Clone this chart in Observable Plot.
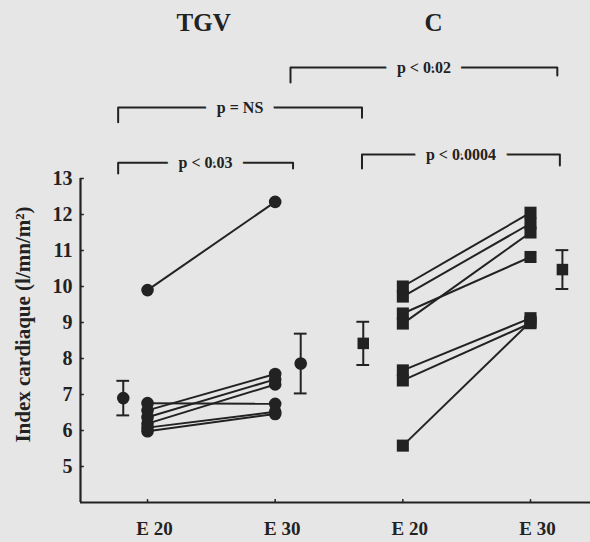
<!DOCTYPE html>
<html><head><meta charset="utf-8">
<script src="https://cdn.jsdelivr.net/npm/d3@7"></script>
<script src="https://cdn.jsdelivr.net/npm/@observablehq/plot@0.6"></script>
<style>html,body{margin:0;padding:0;background:#e6e6e6;}</style>
</head><body><div id="chart"></div>
<script>
// --- data ---
const groups = ["TGV", "C"];
const groupTitleX = [1.44, 3.24];
const groupTitleY = [17.33, 17.33];
const sessions = ["E 20", "E 30", "E 20", "E 30"];
const sessionX = [1, 2, 3, 4];
const yTicks = [5, 6, 7, 8, 9, 10, 11, 12, 13];
const yTitle = "Index cardiaque (l/mn/m²)";

// individual patients (E 20 -> E 30)
const tgvE20 = [9.9, 6.76, 6.56, 6.37, 6.19, 6.08, 5.98];
const tgvE30 = [12.35, 6.74, 7.57, 7.42, 7.28, 6.52, 6.46];
const cE20 = [10.0, 9.72, 9.25, 8.97, 7.67, 7.39, 5.58];
const cE30 = [12.05, 11.75, 10.82, 11.5, 9.12, 8.98, 9.02];

// group means ± SD
const meanGroup = ["TGV", "TGV", "C", "C"];
const meanX = [0.81, 2.2, 2.69, 4.25];
const meanY = [6.9, 7.86, 8.42, 10.47];
const sdY = [0.48, 0.83, 0.6, 0.54];

// significance brackets
const brLabels = ["p < 0.02", "p = NS", "p < 0.03", "p < 0.0004"];
const brX1 = [2.12, 0.77, 0.77, 2.68];
const brX2 = [4.21, 2.68, 2.14, 4.23];
const brTop = [16.08, 14.97, 13.44, 13.67];
const brLegL = [15.67, 14.56, 13.14, 13.28];
const brLegR = [15.86, 14.69, 13.28, 13.36];

// --- derived tables ---
const ink = "#222";
const bg = "#e6e6e6";
const pairs = [
  ...tgvE20.map((v, i) => ({g: "TGV", x1: sessionX[0], y1: v, x2: sessionX[1], y2: tgvE30[i]})),
  ...cE20.map((v, i) => ({g: "C", x1: sessionX[2], y1: v, x2: sessionX[3], y2: cE30[i]}))
];
const points = pairs.flatMap(p => [{g: p.g, x: p.x1, y: p.y1}, {g: p.g, x: p.x2, y: p.y2}]);
const means = meanY.map((m, i) => ({g: meanGroup[i], x: meanX[i], y: m, lo: m - sdY[i], hi: m + sdY[i]}));
const brackets = brLabels.map((t, i) => ({i, t, x1: brX1[i], x2: brX2[i], top: brTop[i], legL: brLegL[i], legR: brLegR[i]}));
const brPath = brackets.flatMap(b => [
  {i: b.i, x: b.x1, y: b.legL}, {i: b.i, x: b.x1, y: b.top},
  {i: b.i, x: b.x2, y: b.top}, {i: b.i, x: b.x2, y: b.legR}
]);
const titles = groups.map((g, i) => ({t: g, x: groupTitleX[i], y: groupTitleY[i]}));
const xMin = 0.475, xMax = 4.47, yMin = 4, yMax = 13;
const capW = 0.05;

const chart = Plot.plot({
  width: 590,
  height: 542,
  marginTop: 178,
  marginBottom: 40,
  marginLeft: 80,
  marginRight: 0,
  style: {fontFamily: "'Liberation Serif', 'Times New Roman', serif", fontWeight: "bold", background: bg, color: ink, fontSize: "20px"},
  x: {domain: [xMin, xMax]},
  y: {domain: [yMin, yMax]},
  marks: [
    // axes
    Plot.axisY(yTicks, {tickSize: 0, tickPadding: 8, fontSize: 20, label: null}),
    Plot.ruleY(yTicks, {y: d => d, x1: xMin, x2: xMin + 0.03, stroke: ink, strokeWidth: 1.5}),
    Plot.axisX(sessionX, {tickSize: 0, tickPadding: 19, fontSize: 19, dx: 7, tickFormat: (d, i) => sessions[i], label: null}),
    Plot.ruleX(sessionX, {x: d => d, y1: yMin, y2: yMin + 0.08, stroke: ink, strokeWidth: 1.5}),
    Plot.ruleX([xMin], {stroke: ink, strokeWidth: 2.2}),
    Plot.ruleY([yMin], {stroke: ink, strokeWidth: 2.2}),
    Plot.text([yTitle], {frameAnchor: "left", textAnchor: "middle", text: d => d, rotate: -90, dx: -57, dy: -16, fontSize: 21, fill: ink}),
    // individual lines
    Plot.link(pairs, {x1: "x1", y1: "y1", x2: "x2", y2: "y2", stroke: ink, strokeWidth: 2}),
    Plot.dot(points.filter(d => d.g === "TGV"), {x: "x", y: "y", r: 6.3, fill: ink, symbol: "circle"}),
    Plot.dot(points.filter(d => d.g === "C"), {x: "x", y: "y", r: 6.8, fill: ink, symbol: "square"}),
    // means ± SD
    Plot.ruleX(means, {x: "x", y1: "lo", y2: "hi", stroke: ink, strokeWidth: 2}),
    Plot.ruleY(means, {y: "lo", x1: d => d.x - capW, x2: d => d.x + capW, stroke: ink, strokeWidth: 2}),
    Plot.ruleY(means, {y: "hi", x1: d => d.x - capW, x2: d => d.x + capW, stroke: ink, strokeWidth: 2}),
    Plot.dot(means.filter(d => d.g === "TGV"), {x: "x", y: "y", r: 6.3, fill: ink, symbol: "circle"}),
    Plot.dot(means.filter(d => d.g === "C"), {x: "x", y: "y", r: 6.5, fill: ink, symbol: "square"}),
    // brackets
    Plot.line(brPath, {x: "x", y: "y", z: "i", stroke: ink, strokeWidth: 2, curve: "linear"}),
    Plot.text(brackets, {x: d => (d.x1 + d.x2) / 2, y: "top", text: "t", fontSize: 16, fill: ink, stroke: bg, strokeWidth: 22, paintOrder: "stroke"}),
    // group titles
    Plot.text(titles, {x: "x", y: "y", text: "t", fontSize: 25, fill: ink})
  ]
});
document.getElementById("chart").appendChild(chart);
</script>
</body></html>
